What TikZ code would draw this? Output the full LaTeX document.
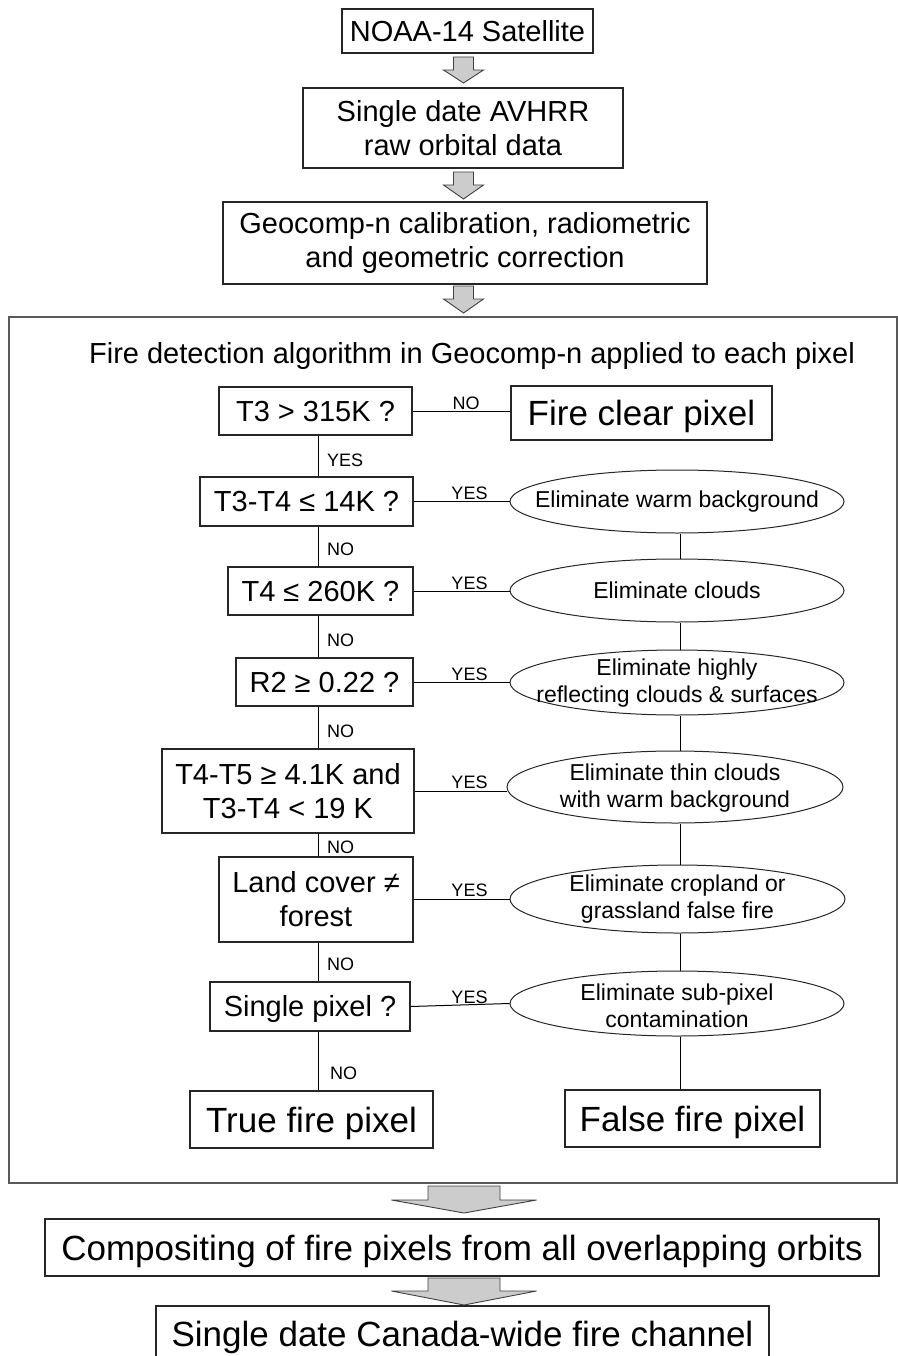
\documentclass[tikz,border=0pt]{standalone}
\usepackage{fontspec}
\setmainfont{Liberation Sans}
\usetikzlibrary{shapes.geometric,calc}
\newcommand\fA{\fontsize{29}{33}\selectfont}
\newcommand\fB{\fontsize{35}{40}\selectfont}
\newcommand\fE{\fontsize{23}{27}\selectfont}
\newcommand\fL{\fontsize{18}{20}\selectfont}
% block arrow: centre x, shaft half width, head half width, top y, head base y, tip y
\newcommand\blockarr[6]{%
  \draw[barrow] ({#1-#2},#4) -- ({#1+#2},#4) -- ({#1+#2},#5) -- ({#1+#3},#5)
    -- (#1,#6) -- ({#1-#3},#5) -- ({#1-#2},#5) -- cycle;}
\begin{document}
\begin{tikzpicture}[x=1pt,y=-1pt,
  box/.style={draw=black!85, line width=1.2pt, rectangle, inner sep=0pt, align=center},
  onebox/.style={box, text height=20.8pt, text depth=0pt},
  bigbox/.style={box, font=\fB, text height=25pt, text depth=0pt},
  outerbox/.style={draw=black!65, line width=1.6pt, rectangle, inner sep=0pt},
  ell/.style={draw=black!85, line width=1pt, ellipse, inner sep=0pt, minimum width=334pt},
  etext/.style={font=\fE, align=center, inner sep=0pt},
  conn/.style={draw=black, line width=1pt},
  lab/.style={font=\fL, inner sep=0pt},
  vlab/.style={font=\fL, inner sep=0pt, anchor=west, text height=12.9pt, text depth=0pt},
  barrow/.style={draw=black!75, line width=0.9pt, fill=black!20, line join=miter}
]
\useasboundingbox (0,0) rectangle (897,1356);

% top chain
\node[onebox, font=\fA, minimum width=251pt, minimum height=44pt] (noaa) at (467.5,31) {NOAA-14 Satellite};
\node[box, font=\fA, minimum width=320pt, minimum height=80pt] (avhrr) at (463,128) {Single date AVHRR\\[1pt]raw orbital data};
\node[box, font=\fA, minimum width=484pt, minimum height=82pt] (geo) at (465,243) {Geocomp-n calibration, radiometric\\[1pt]and geometric correction};

\blockarr{463.5}{10}{20}{57}{70}{83}
\blockarr{463.5}{10}{20}{172}{185}{199}
\blockarr{463.5}{10}{20}{286}{299}{313}

% algorithm frame
\node[outerbox, minimum width=888pt, minimum height=866pt] (alg) at (453,750) {};
\node[font=\fA, anchor=base, inner sep=0pt] (title) at (472,363) {Fire detection algorithm in Geocomp-n applied to each pixel};

% decisions
\node[onebox, font=\fA, minimum width=193pt, minimum height=48pt] (t3) at (315.5,411) {T3 > 315K ?};
\node[onebox, font=\fA, minimum width=213pt, minimum height=49pt] (t34) at (306.5,501.5) {T3-T4 ≤ 14K ?};
\node[onebox, font=\fA, minimum width=185pt, minimum height=48pt] (t4) at (320.5,591) {T4 ≤ 260K ?};
\node[onebox, font=\fA, minimum width=177pt, minimum height=48pt] (r2) at (324.5,682) {R2 ≥ 0.22 ?};
\node[box, font=\fA, minimum width=252pt, minimum height=84pt] (t45) at (288,791) {T4-T5 ≥ 4.1K and\\[1pt]T3-T4 < 19 K};
\node[box, font=\fA, minimum width=194pt, minimum height=85pt] (land) at (316,899.5) {Land cover ≠\\[1pt]forest};
\node[onebox, font=\fA, minimum width=200pt, minimum height=49pt] (single) at (310,1006.5) {Single pixel ?};

% outcomes
\node[bigbox, minimum width=261pt, minimum height=54pt] (clear) at (641.5,413) {Fire clear pixel};
\node[bigbox, minimum width=243pt, minimum height=57pt] (true) at (311.5,1119.5) {True fire pixel};
\node[bigbox, minimum width=255pt, minimum height=57pt] (false) at (692.5,1118.5) {False fire pixel};

% eliminations
\node[ell, minimum height=63pt] (e1) at (677,501.5) {};
\node[ell, minimum height=63pt] (e2) at (677,590.5) {};
\node[ell, minimum height=65pt] (e3) at (677,682.5) {};
\node[ell, minimum height=72pt, minimum width=336pt] (e4) at (675,787) {};
\node[ell, minimum height=68pt, minimum width=335pt] (e5) at (677.5,899) {};
\node[ell, minimum height=65pt] (e6) at (677,1003.5) {};
\node[etext] (e1t) at (e1.center) {Eliminate warm background};
\node[etext] (e2t) at (e2.center) {Eliminate clouds};
\node[etext] (e3t) at ($(e3.center)+(0,1)$) {Eliminate highly\\reflecting clouds \& surfaces};
\node[etext] (e4t) at ($(e4.center)+(0,1)$) {Eliminate thin clouds\\with warm background};
\node[etext] (e5t) at (e5.center) {Eliminate cropland or\\grassland false fire};
\node[etext] (e6t) at ($(e6.center)+(0,2)$) {Eliminate sub-pixel\\contamination};

% horizontal connectors
\draw[conn] (t3.east) -- (t3.east -| clear.west);
\draw[conn] (t34.east) -- (t34.east -| e1.west);
\draw[conn] (t4.east) -- (t4.east -| e2.west);
\draw[conn] (r2.east) -- (r2.east -| e3.west);
\draw[conn] (t45.east) -- (t45.east -| e4.west);
\draw[conn] (land.east) -- (land.east -| e5.west);
\draw[conn] (single.east) -- (e6.west);

% left spine
\coordinate (sp) at (318,0);
\draw[conn] (t3.south -| sp) -- (t34.north -| sp);
\draw[conn] (t34.south -| sp) -- (t4.north -| sp);
\draw[conn] (t4.south -| sp) -- (r2.north -| sp);
\draw[conn] (r2.south -| sp) -- (t45.north -| sp);
\draw[conn] (t45.south -| sp) -- (land.north -| sp);
\draw[conn] (land.south -| sp) -- (single.north -| sp);
\draw[conn] (single.south -| sp) -- (true.north -| sp);

% right spine
\coordinate (rs) at (680,0);
\draw[conn] (e1.south -| rs) -- (e2.north -| rs);
\draw[conn] (e2.south -| rs) -- (e3.north -| rs);
\draw[conn] (e3.south -| rs) -- (e4.north -| rs);
\draw[conn] (e4.south -| rs) -- (e5.north -| rs);
\draw[conn] (e5.south -| rs) -- (e6.north -| rs);
\draw[conn] (e6.south -| rs) -- (false.north -| rs);

% labels
\node[lab, anchor=base] (l0) at (466,409) {NO};
\node[lab, anchor=base] (l1) at (469.5,499.5) {YES};
\node[lab, anchor=base] (l2) at (469.5,589) {YES};
\node[lab, anchor=base] (l3) at (469.5,680) {YES};
\node[lab, anchor=base] (l4) at (469.5,788) {YES};
\node[lab, anchor=base] (l5) at (469.5,896.5) {YES};
\node[lab, anchor=base] (l6) at (469.5,1003.5) {YES};
\node[vlab] (v0) at (327,460) {YES};
\node[vlab] (v1) at (327,549) {NO};
\node[vlab] (v2) at (327,640) {NO};
\node[vlab] (v3) at (327,731) {NO};
\node[vlab] (v4) at (327,847) {NO};
\node[vlab] (v5) at (327,964) {NO};
\node[vlab] (v6) at (330,1073) {NO};

% bottom chain
\blockarr{464}{36}{72.5}{1186}{1200}{1213}
\node[bigbox, minimum width=834pt, minimum height=57pt] (comp) at (462,1247.5) {Compositing of fire pixels from all overlapping orbits};
\blockarr{464}{36}{72.5}{1278}{1291}{1305}
\node[bigbox, minimum width=613pt, minimum height=56pt] (final) at (462.5,1334) {Single date Canada-wide fire channel};
\end{tikzpicture}
\end{document}
